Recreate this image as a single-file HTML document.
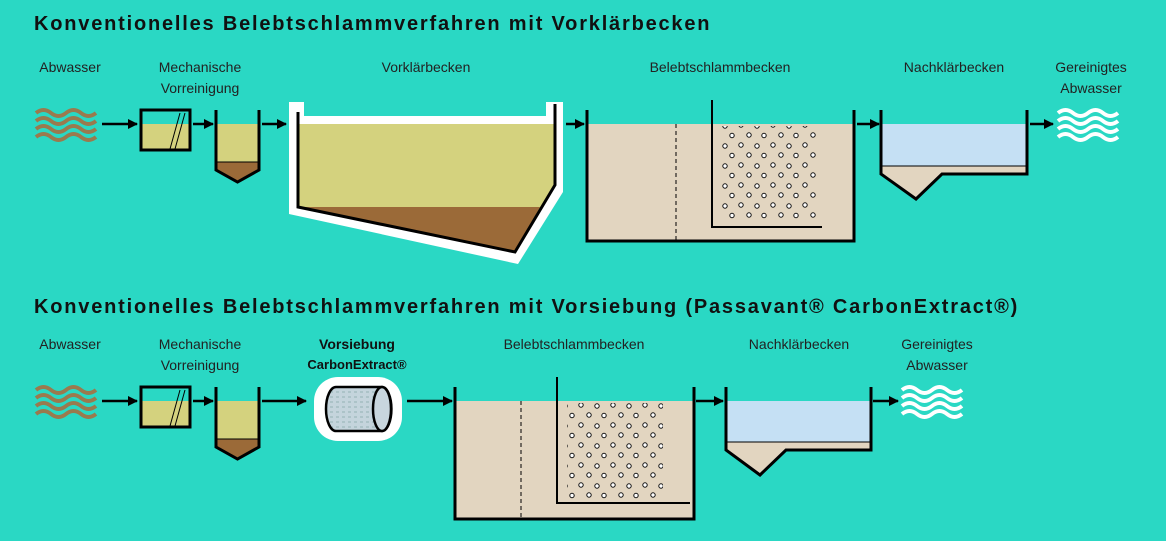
<!DOCTYPE html>
<html><head><meta charset="utf-8"><style>
html,body{margin:0;padding:0;background:#2ad8c4;}
svg{display:block}
text{font-family:"Liberation Sans",sans-serif;}
.t{font-size:20px;font-weight:bold;fill:#111;letter-spacing:1.8px;}
.l{font-size:14px;fill:#222;text-anchor:middle;}
</style></head><body>
<svg width="1166" height="541" viewBox="0 0 1166 541" xmlns="http://www.w3.org/2000/svg">
<defs>
<marker id="ah" markerWidth="10" markerHeight="10" refX="9" refY="5" orient="auto" markerUnits="userSpaceOnUse"><path d="M0,0 L10,5 L0,10 z" fill="#000"/></marker>
<pattern id="bub" width="32" height="20" patternUnits="userSpaceOnUse">
<g fill="#fff" stroke="#111" stroke-width="1"><circle cx="5" cy="5" r="2.2"/><circle cx="21" cy="6" r="2.2"/><circle cx="13" cy="15" r="2.2"/><circle cx="28" cy="15.5" r="2.2"/></g>
</pattern>
<pattern id="dots" width="6" height="5" patternUnits="userSpaceOnUse"><rect width="6" height="5" fill="#c4d4dc"/><path d="M0,2 h3" stroke="#8aa" stroke-width="0.8"/></pattern>
<g id="wave"><path d="M0,0 q7.5,-6 15,0 t15,0 t15,0 t15,0" fill="none" stroke-width="4"/></g>
</defs>
<rect width="1166" height="541" fill="#2ad8c4"/>
<text class="t" x="34" y="30">Konventionelles Belebtschlammverfahren mit Vorklärbecken</text>
<text class="t" x="34" y="313">Konventionelles Belebtschlammverfahren mit Vorsiebung (Passavant® CarbonExtract®)</text>

<g class="l">
<text class="l" x="70" y="72">Abwasser</text>
<text class="l" x="200" y="72">Mechanische</text><text class="l" x="200" y="93">Vorreinigung</text>
<text class="l" x="426" y="72">Vorklärbecken</text>
<text class="l" x="720" y="72">Belebtschlammbecken</text>
<text class="l" x="954" y="72">Nachklärbecken</text>
<text class="l" x="1091" y="72">Gereinigtes</text><text class="l" x="1091" y="93">Abwasser</text>

<text class="l" x="70" y="349">Abwasser</text>
<text class="l" x="200" y="349">Mechanische</text><text class="l" x="200" y="370">Vorreinigung</text>
<text class="l" x="357" y="349" style="font-weight:bold;fill:#111">Vorsiebung</text>
<text class="l" x="357" y="369" style="font-weight:bold;fill:#111;font-size:13px">CarbonExtract®</text>
<text class="l" x="574" y="349">Belebtschlammbecken</text>
<text class="l" x="799" y="349">Nachklärbecken</text>
<text class="l" x="937" y="349">Gereinigtes</text><text class="l" x="937" y="370">Abwasser</text>
</g>

<!-- ROW 1 -->
<g stroke="#9a7a4e"><use href="#wave" x="36" y="113"/><use href="#wave" x="36" y="121"/><use href="#wave" x="36" y="129"/><use href="#wave" x="36" y="137"/></g>
<g stroke="#000" stroke-width="2.5" marker-end="url(#ah)">
<line x1="102" y1="124" x2="137" y2="124"/><line x1="193" y1="124" x2="213" y2="124"/><line x1="262" y1="124" x2="286" y2="124"/>
<line x1="566" y1="124" x2="584" y2="124"/><line x1="857" y1="124" x2="879" y2="124"/><line x1="1030" y1="124" x2="1053" y2="124"/>
</g>
<rect x="141" y="124" width="49" height="25" fill="#d4d27e"/>
<rect x="141" y="110" width="49" height="40" fill="none" stroke="#000" stroke-width="3"/>
<path d="M170,149 L180,113 M175,149 L185,113" stroke="#000" stroke-width="1"/>
<path d="M216,124 H259 V162 H216 z" fill="#d4d27e"/>
<path d="M216,162 H259 V170 L237.5,182 L216,170 z" fill="#9b6a38"/>
<path d="M216,110 V170 L237.5,182 L259,170 V110" fill="none" stroke="#000" stroke-width="3"/>
<line x1="216" y1="162" x2="259" y2="162" stroke="#000" stroke-width="1"/>
<path d="M289,102 H304 V116 H546 V102 H563 V192 L518,264 L289,214 z" fill="#fff"/>
<path d="M298,124 H555 V185 L515,252 L298,207 z" fill="#d4d27e"/>
<path d="M298,207 H540 L515,252 z" fill="#9b6a38"/>
<path d="M298,112 V207 L515,252 L555,185 V104" fill="none" stroke="#000" stroke-width="3"/>
<rect x="587" y="124" width="267" height="117" fill="#e2d5c0"/>
<path d="M587,110 V241 H854 V110" fill="none" stroke="#000" stroke-width="3"/>
<line x1="676" y1="124" x2="676" y2="241" stroke="#000" stroke-width="1" stroke-dasharray="4,3"/>
<rect x="722" y="126" width="96" height="96" fill="url(#bub)"/>
<path d="M712,100 V227 H822" fill="none" stroke="#000" stroke-width="2"/>
<rect x="881" y="124" width="146" height="42" fill="#c5e0f4"/>
<path d="M881,166 H1027 V174 H942 L916,199 L881,174 z" fill="#e2d5c0"/>
<line x1="881" y1="166" x2="1027" y2="166" stroke="#000" stroke-width="1"/>
<path d="M881,110 V174 L916,199 L942,174 H1027 V110" fill="none" stroke="#000" stroke-width="3"/>
<g stroke="#fff"><use href="#wave" x="1058" y="113"/><use href="#wave" x="1058" y="121"/><use href="#wave" x="1058" y="129"/><use href="#wave" x="1058" y="137"/></g>

<!-- ROW 2 -->
<g stroke="#9a7a4e"><use href="#wave" x="36" y="390"/><use href="#wave" x="36" y="398"/><use href="#wave" x="36" y="406"/><use href="#wave" x="36" y="414"/></g>
<g stroke="#000" stroke-width="2.5" marker-end="url(#ah)">
<line x1="102" y1="401" x2="137" y2="401"/><line x1="193" y1="401" x2="213" y2="401"/><line x1="262" y1="401" x2="306" y2="401"/>
<line x1="407" y1="401" x2="452" y2="401"/><line x1="696" y1="401" x2="723" y2="401"/><line x1="873" y1="401" x2="898" y2="401"/>
</g>
<rect x="141" y="401" width="49" height="25" fill="#d4d27e"/>
<rect x="141" y="387" width="49" height="40" fill="none" stroke="#000" stroke-width="3"/>
<path d="M170,426 L180,390 M175,426 L185,390" stroke="#000" stroke-width="1"/>
<path d="M216,401 H259 V439 H216 z" fill="#d4d27e"/>
<path d="M216,439 H259 V447 L237.5,459 L216,447 z" fill="#9b6a38"/>
<path d="M216,387 V447 L237.5,459 L259,447 V387" fill="none" stroke="#000" stroke-width="3"/>
<line x1="216" y1="439" x2="259" y2="439" stroke="#000" stroke-width="1"/>
<rect x="314" y="377" width="88" height="64" rx="24" fill="#fff"/>
<path d="M336,387 H382 A9,21 0 0 1 382,431 H336 A10,22 0 0 1 336,387 z" fill="url(#dots)" stroke="#000" stroke-width="2.5"/>
<ellipse cx="382" cy="409" rx="9" ry="22" fill="#c8d6de" stroke="#000" stroke-width="2.5"/>
<rect x="455" y="401" width="239" height="118" fill="#e2d5c0"/>
<path d="M455,387 V519 H694 V387" fill="none" stroke="#000" stroke-width="3"/>
<line x1="521" y1="401" x2="521" y2="519" stroke="#000" stroke-width="1" stroke-dasharray="4,3"/>
<rect x="567" y="403" width="96" height="96" fill="url(#bub)"/>
<path d="M557,377 V503 H690" fill="none" stroke="#000" stroke-width="2"/>
<rect x="726" y="401" width="145" height="41" fill="#c5e0f4"/>
<path d="M726,442 H871 V450 H786 L760,475 L726,450 z" fill="#e2d5c0"/>
<line x1="726" y1="442" x2="871" y2="442" stroke="#000" stroke-width="1"/>
<path d="M726,387 V450 L760,475 L786,450 H871 V387" fill="none" stroke="#000" stroke-width="3"/>
<g stroke="#fff"><use href="#wave" x="902" y="390"/><use href="#wave" x="902" y="398"/><use href="#wave" x="902" y="406"/><use href="#wave" x="902" y="414"/></g>
</svg>
</body></html>
